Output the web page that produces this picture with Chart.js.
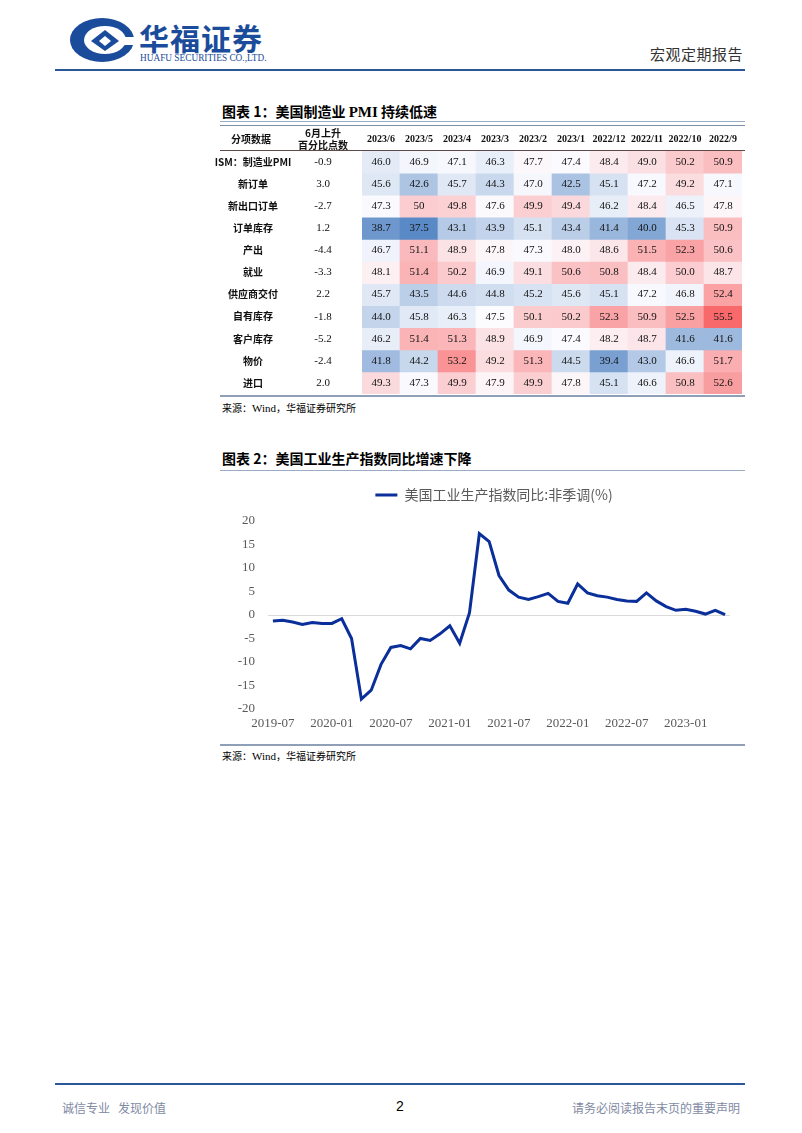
<!DOCTYPE html>
<html>
<head>
<meta charset="utf-8">
<script src="https://cdn.jsdelivr.net/npm/chart.js@4.4.0/dist/chart.umd.min.js"></script>
<style>
  html, body { margin: 0; padding: 0; background: #fff; }
  #page { position: relative; width: 802px; height: 1133px; overflow: hidden; font-family: "Noto Sans CJK SC", sans-serif; }
  .abs { position: absolute; }
  .hline { position: absolute; height: 0; }
  .title { position: absolute; left: 222px; font-size: 14px; font-weight: bold; color: #000; white-space: nowrap; }
  .src { position: absolute; left: 222px; font-size: 10px; color: #000; white-space: nowrap; }
  .src .en { font-family: "Liberation Serif", serif; font-size: 11px; }
  canvas { position: absolute; }
</style>
</head>
<body>
<div id="page">
  <!-- header -->
  <svg class="abs" style="left:69px;top:17px" width="66" height="46" viewBox="0 0 66 46">
    <ellipse cx="33" cy="23" rx="32" ry="22" fill="#1b4c9b"/>
    <ellipse cx="36" cy="23" rx="21" ry="14" fill="#fff"/>
    <path d="M22 24 L36 13 L50 24 L36 34 Z" fill="#1b4c9b"/>
    <path d="M30 24 L36 19 L42 24 L36 29 Z" fill="#fff"/>
    <rect x="52" y="20" width="14" height="8" fill="#fff"/>
  </svg>
  <div class="abs" style="left:139px;top:15px;font-size:30px;font-weight:bold;color:#1b4c9b;letter-spacing:1px;white-space:nowrap">华福证券</div>
  <div class="abs" style="left:140px;top:52px;font-family:'Liberation Serif',serif;font-size:10px;color:#1b4c9b;white-space:nowrap;transform:scaleX(0.93);transform-origin:left top">HUAFU SECURITIES CO.,LTD.</div>
  <div class="abs" style="left:650px;top:43px;font-size:15px;color:#333;letter-spacing:0.5px;white-space:nowrap">宏观定期报告</div>
  <div class="hline" style="left:55px;top:69px;width:690px;border-top:2px solid #2b5597"></div>

  <!-- figure 1 -->
  <div class="title" style="top:101px">图表 1：美国制造业 <span style="font-family:'Liberation Serif',serif;font-size:15px">PMI</span> 持续低速</div>
  <div class="hline" style="left:220px;top:121px;width:525px;border-top:1px solid #9aabc4"></div>
  <div class="hline" style="left:220px;top:125px;width:525px;border-top:1.5px solid #7d8ea8"></div>
  <div class="hline" style="left:220px;top:150px;width:525px;border-top:1px solid #5e4a4a"></div>
  <canvas id="heat" width="533" height="270" style="left:212px;top:126px"></canvas>
  <div class="hline" style="left:220px;top:395px;width:525px;border-top:2px solid #8f9fb8"></div>
  <div class="src" style="top:400px">来源：<span class="en">Wind</span>，华福证券研究所</div>

  <!-- figure 2 -->
  <div class="title" style="top:448px">图表 2：美国工业生产指数同比增速下降</div>
  <div class="hline" style="left:220px;top:470px;width:525px;border-top:1.5px solid #9aabc4"></div>
  <canvas id="ip" width="540" height="256" style="left:220px;top:478px"></canvas>
  <div class="hline" style="left:220px;top:744px;width:525px;border-top:2px solid #8f9fb8"></div>
  <div class="src" style="top:748px">来源：<span class="en">Wind</span>，华福证券研究所</div>

  <!-- footer -->
  <div class="hline" style="left:55px;top:1083px;width:690px;border-top:2px solid #2b5597"></div>
  <div class="abs" style="left:62px;top:1099px;font-size:12px;color:#7f8aa3;white-space:nowrap">诚信专业&nbsp;&nbsp;&nbsp;发现价值</div>
  <div class="abs" style="left:396px;top:1098px;font-family:'Liberation Sans',sans-serif;font-size:14px;color:#000">2</div>
  <div class="abs" style="left:572px;top:1099px;font-size:12px;color:#7f8aa3;white-space:nowrap">请务必阅读报告末页的重要声明</div>
</div>

<script>
// ---- figure 1: ISM manufacturing sub-indices ----
const months = ['2023/6', '2023/5', '2023/4', '2023/3', '2023/2', '2023/1', '2022/12', '2022/11', '2022/10', '2022/9'];
const rowNames = ['ISM：制造业PMI', '新订单', '新出口订单', '订单库存', '产出', '就业', '供应商交付', '自有库存', '客户库存', '物价', '进口'];
const juneChange = ['-0.9', '3.0', '-2.7', '1.2', '-4.4', '-3.3', '2.2', '-1.8', '-5.2', '-2.4', '2.0'];

const pmi          = ['46.0', '46.9', '47.1', '46.3', '47.7', '47.4', '48.4', '49.0', '50.2', '50.9'];
const newOrders    = ['45.6', '42.6', '45.7', '44.3', '47.0', '42.5', '45.1', '47.2', '49.2', '47.1'];
const exportOrders = ['47.3', '50',   '49.8', '47.6', '49.9', '49.4', '46.2', '48.4', '46.5', '47.8'];
const backlog      = ['38.7', '37.5', '43.1', '43.9', '45.1', '43.4', '41.4', '40.0', '45.3', '50.9'];
const production   = ['46.7', '51.1', '48.9', '47.8', '47.3', '48.0', '48.6', '51.5', '52.3', '50.6'];
const employment   = ['48.1', '51.4', '50.2', '46.9', '49.1', '50.6', '50.8', '48.4', '50.0', '48.7'];
const deliveries   = ['45.7', '43.5', '44.6', '44.8', '45.2', '45.6', '45.1', '47.2', '46.8', '52.4'];
const inventories  = ['44.0', '45.8', '46.3', '47.5', '50.1', '50.2', '52.3', '50.9', '52.5', '55.5'];
const custInv      = ['46.2', '51.4', '51.3', '48.9', '46.9', '47.4', '48.2', '48.7', '41.6', '41.6'];
const prices       = ['41.8', '44.2', '53.2', '49.2', '51.3', '44.5', '39.4', '43.0', '46.6', '51.7'];
const imports      = ['49.3', '47.3', '49.9', '47.9', '49.9', '47.8', '45.1', '46.6', '50.8', '52.6'];

const rows = [pmi, newOrders, exportOrders, backlog, production, employment, deliveries, inventories, custInv, prices, imports];

// ---- figure 2: US industrial production yoy (NSA) ----
const ipMonths = [];
for (let y = 2019, m = 7; ipMonths.length < 47; m++) {
  if (m > 12) { m = 1; y++; }
  ipMonths.push(y + '-' + String(m).padStart(2, '0'));
}
const ipYoy = [-1.3, -1.1, -1.5, -2.0, -1.6, -1.8, -1.8, -0.8, -5.0, -17.9, -16.0, -10.5,
  -6.9, -6.5, -7.2, -5.0, -5.4, -4.0, -2.3, -6.0, 0.5, 17.3, 15.6, 8.4,
  5.3, 3.8, 3.3, 3.9, 4.6, 2.9, 2.5, 6.6, 4.7, 4.1, 3.8, 3.3,
  3.0, 2.9, 4.7, 3.0, 1.8, 1.0, 1.2, 0.8, 0.2, 1.0, 0.1];

// excel style 3-colour scale: min blue, median white, max red
const allVals = rows.flat().map(parseFloat).sort((a, b) => a - b);
const vMin = allVals[0], vMax = allVals[allVals.length - 1];
const pos = (allVals.length - 1) * 0.5;
const vMid = allVals[Math.floor(pos)] + (allVals[Math.ceil(pos)] - allVals[Math.floor(pos)]) * (pos - Math.floor(pos));
const cBlue = [90, 138, 198], cWhite = [252, 252, 255], cRed = [248, 105, 107];

function mix(a, b, t) {
  return 'rgb(' + a.map((c, i) => Math.round(c + (b[i] - c) * t)).join(',') + ')';
}
function heatColor(v) {
  if (v <= vMid) return mix(cBlue, cWhite, (v - vMin) / (vMid - vMin));
  return mix(cWhite, cRed, (v - vMid) / (vMax - vMid));
}

// text columns, header row and cell values
const tableText = {
  id: 'tableText',
  afterDatasetsDraw(chart) {
    const ctx = chart.ctx;
    const xs = chart.scales.x;
    ctx.save();
    ctx.textAlign = 'center';
    ctx.textBaseline = 'middle';
    ctx.fillStyle = '#111';
    chart.data.datasets.forEach((ds, i) => {
      const meta = chart.getDatasetMeta(i);
      let yc = 0;
      meta.data.forEach((el, j) => {
        yc = (el.y + el.base) / 2;
        ctx.font = '11px "Liberation Serif"';
        ctx.fillText(ds.texts[j], el.x, yc);
      });
      ctx.font = 'bold 10px "Noto Sans CJK SC"';
      ctx.fillText(rowNames[i], 41, yc);
      ctx.font = '11px "Liberation Serif"';
      ctx.fillText(juneChange[i], 111, yc);
    });
    ctx.font = 'bold 10px "Noto Sans CJK SC"';
    ctx.fillText('分项数据', 39, 13);
    ctx.fillText('6月上升', 111, 7);
    ctx.fillText('百分比点数', 111, 19);
    ctx.font = 'bold 10px "Liberation Serif"';
    months.forEach((m, j) => ctx.fillText(m, xs.getPixelForValue(j), 13));
    ctx.restore();
  }
};

new Chart(document.getElementById('heat'), {
  type: 'bar',
  data: {
    labels: months,
    datasets: rows.map((r, i) => ({
      data: r.map(() => [i, i + 1]),
      texts: r,
      backgroundColor: r.map(v => heatColor(parseFloat(v))),
      borderWidth: 0,
      grouped: false,
      barPercentage: 1,
      categoryPercentage: 1
    }))
  },
  options: {
    responsive: false,
    animation: false,
    events: [],
    layout: { padding: { left: 150, right: 3, top: 25, bottom: 2 } },
    plugins: { legend: { display: false }, tooltip: { enabled: false } },
    scales: {
      x: { display: false },
      y: { type: 'linear', display: false, min: 0, max: 11, reverse: true }
    }
  },
  plugins: [tableText]
});

const axisFont = { family: 'Liberation Serif', size: 13 };

// extra room between legend and plot
const legendGap = {
  id: 'legendGap',
  beforeInit(chart) {
    const fit = chart.legend.fit;
    chart.legend.fit = function () {
      fit.bind(chart.legend)();
      this.height += 9;
    };
  }
};

new Chart(document.getElementById('ip'), {
  type: 'line',
  data: {
    labels: ipMonths,
    datasets: [{
      label: '美国工业生产指数同比:非季调(%)',
      data: ipYoy,
      borderColor: '#0a2e9a',
      backgroundColor: '#0a2e9a',
      borderWidth: 3,
      pointRadius: 0,
      tension: 0
    }]
  },
  options: {
    responsive: false,
    animation: false,
    events: [],
    layout: { padding: { left: 10, right: 2, top: 0, bottom: 1 } },
    plugins: {
      legend: {
        labels: {
          usePointStyle: true, pointStyle: 'line', pointStyleWidth: 22,
          font: { family: 'Noto Sans CJK SC', size: 14 }, color: '#595959', padding: 10
        }
      },
      tooltip: { enabled: false }
    },
    scales: {
      x: {
        offset: true,
        grid: { display: false, drawTicks: false },
        border: { display: false },
        ticks: {
          autoSkip: false, maxRotation: 0, padding: 7, font: axisFont, color: '#595959',
          callback(v, i) { return i % 6 === 0 ? this.getLabelForValue(v) : ''; }
        },
        afterFit(s) { s.height = 24; }
      },
      y: {
        min: -20, max: 20,
        ticks: { stepSize: 5, padding: 13, font: axisFont, color: '#595959' },
        grid: { color: c => c.tick && c.tick.value === 0 ? '#d9d9d9' : 'rgba(0,0,0,0)', drawTicks: false },
        border: { display: false },
        afterFit(s) { s.width = 38; }
      },
      // empty right axis, only balances the legend over the plot
      yRight: {
        position: 'right',
        min: -20, max: 20,
        ticks: { display: false },
        grid: { display: false, drawTicks: false },
        border: { display: false },
        afterFit(s) { s.width = 28; }
      }
    }
  },
  plugins: [legendGap]
});
</script>
</body>
</html>
